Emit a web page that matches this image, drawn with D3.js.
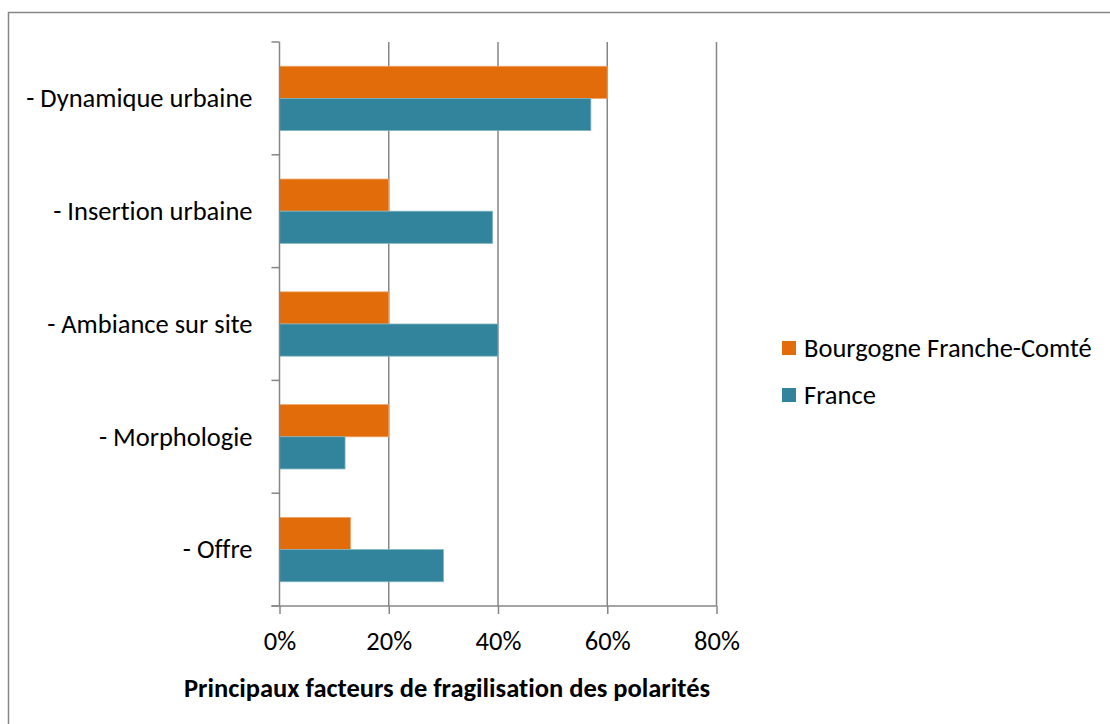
<!DOCTYPE html>
<html>
<head>
<meta charset="utf-8">
<script src="https://cdn.jsdelivr.net/npm/d3@7"></script>
<style>
  body { margin: 0; background: #fff; }
  svg { display: block; font-family: Calibri, Carlito, "Open Sans", sans-serif; font-variant-ligatures: none; }
</style>
</head>
<body>
<svg id="chart" width="1110" height="724"></svg>
<script>
// data
const categories = ["- Dynamique urbaine", "- Insertion urbaine", "- Ambiance sur site", "- Morphologie", "- Offre"];
const seriesNames = ["Bourgogne Franche-Comté", "France"];
const bourgogne = [0.60, 0.20, 0.20, 0.20, 0.13];
const france = [0.57, 0.39, 0.40, 0.12, 0.30];
const xTicks = [0, 0.2, 0.4, 0.6, 0.8];
const colors = ["#E36C0A", "#31849B"];
const title = "Principaux facteurs de fragilisation des polarités";

const margin = { top: 42, left: 279.5 };
const xdim = 437, ydim = 564;
const fontSize = 26.5;

const svg = d3.select("#chart");

// outer frame (only top and left edges visible in the crop)
svg.append("rect")
  .attr("x", 8.5).attr("y", 12.5)
  .attr("width", 1200).attr("height", 800)
  .attr("fill", "none").attr("stroke", "#868686").attr("stroke-width", 1.5);

const xscale = d3.scaleLinear().domain([0, 0.8]).range([margin.left, margin.left + xdim]);
const yscale = d3.scaleBand().domain(categories).range([margin.top, margin.top + ydim]).paddingInner(0.43).paddingOuter(0.215);
const sub = d3.scaleBand().domain(seriesNames).range([0, yscale.bandwidth()]);

// grid lines
svg.append("g")
  .selectAll("line")
  .data(xTicks.slice(1))
  .enter()
  .append("line")
  .attr("x1", d => xscale(d)).attr("x2", d => xscale(d))
  .attr("y1", margin.top).attr("y2", margin.top + ydim)
  .attr("stroke", "#868686").attr("stroke-width", 1.5);

// bars
const rows = categories.map((c, i) => ({ cat: c, vals: [bourgogne[i], france[i]] }));
const group = svg.append("g")
  .selectAll("g")
  .data(rows)
  .enter()
  .append("g")
  .attr("transform", d => `translate(0, ${yscale(d.cat)})`);

group.selectAll("rect")
  .data(d => d.vals.map((v, j) => ({ v, name: seriesNames[j], j })))
  .enter()
  .append("rect")
  .attr("x", xscale(0))
  .attr("y", d => sub(d.name))
  .attr("width", d => xscale(d.v) - xscale(0))
  .attr("height", sub.bandwidth())
  .attr("fill", d => colors[d.j])
  .attr("stroke", d => d.j === 0 ? "#eea36a" : "#7fb3c2")
  .attr("stroke-width", 0.8);

// x axis
const xAxis = d3.axisBottom(xscale)
  .tickValues(xTicks)
  .tickFormat(d3.format(".0%"))
  .tickSizeInner(8).tickSizeOuter(0).tickPadding(17);
const gx = svg.append("g")
  .attr("transform", `translate(0, ${margin.top + ydim})`)
  .call(xAxis)
  .attr("font-family", null)
  .attr("font-size", null);
gx.select(".domain").attr("stroke", "#868686").attr("stroke-width", 1.5)
  .attr("d", `M${margin.left - 8},0H${margin.left + xdim}`);
gx.selectAll(".tick line").attr("stroke", "#868686").attr("stroke-width", 1.5);
gx.selectAll("text").attr("font-size", fontSize).attr("fill", "#000");

// y axis: ticks sit on the band boundaries
const gy = svg.append("g")
  .attr("transform", `translate(${margin.left}, 0)`);
gy.append("line")
  .attr("y1", margin.top).attr("y2", margin.top + ydim)
  .attr("stroke", "#868686").attr("stroke-width", 1.5);
const step = ydim / categories.length;
gy.selectAll(".ytick")
  .data(d3.range(categories.length + 1))
  .enter()
  .append("line")
  .attr("x1", -8).attr("x2", 0)
  .attr("y1", i => margin.top + i * step).attr("y2", i => margin.top + i * step)
  .attr("stroke", "#868686").attr("stroke-width", 1.5);
gy.selectAll("text")
  .data(categories)
  .enter()
  .append("text")
  .attr("x", -27)
  .attr("y", d => yscale(d) + yscale.bandwidth() / 2)
  .attr("dy", "0.33em")
  .attr("text-anchor", "end")
  .attr("font-size", fontSize)
  .text(d => d);

// x axis title
svg.append("text")
  .text(title)
  .attr("x", 447)
  .attr("y", 697)
  .attr("text-anchor", "middle")
  .attr("font-size", fontSize)
  .attr("font-weight", "bold");

// legend
const legend = svg.append("g")
  .selectAll("g")
  .data(seriesNames)
  .enter()
  .append("g")
  .attr("transform", (d, i) => `translate(782, ${341 + i * 47})`);
legend.append("rect")
  .attr("width", 14).attr("height", 14)
  .attr("fill", (d, i) => colors[i]);
legend.append("text")
  .attr("x", 22).attr("y", 7).attr("dy", "0.33em")
  .attr("font-size", fontSize)
  .text(d => d);
</script>
</body>
</html>
